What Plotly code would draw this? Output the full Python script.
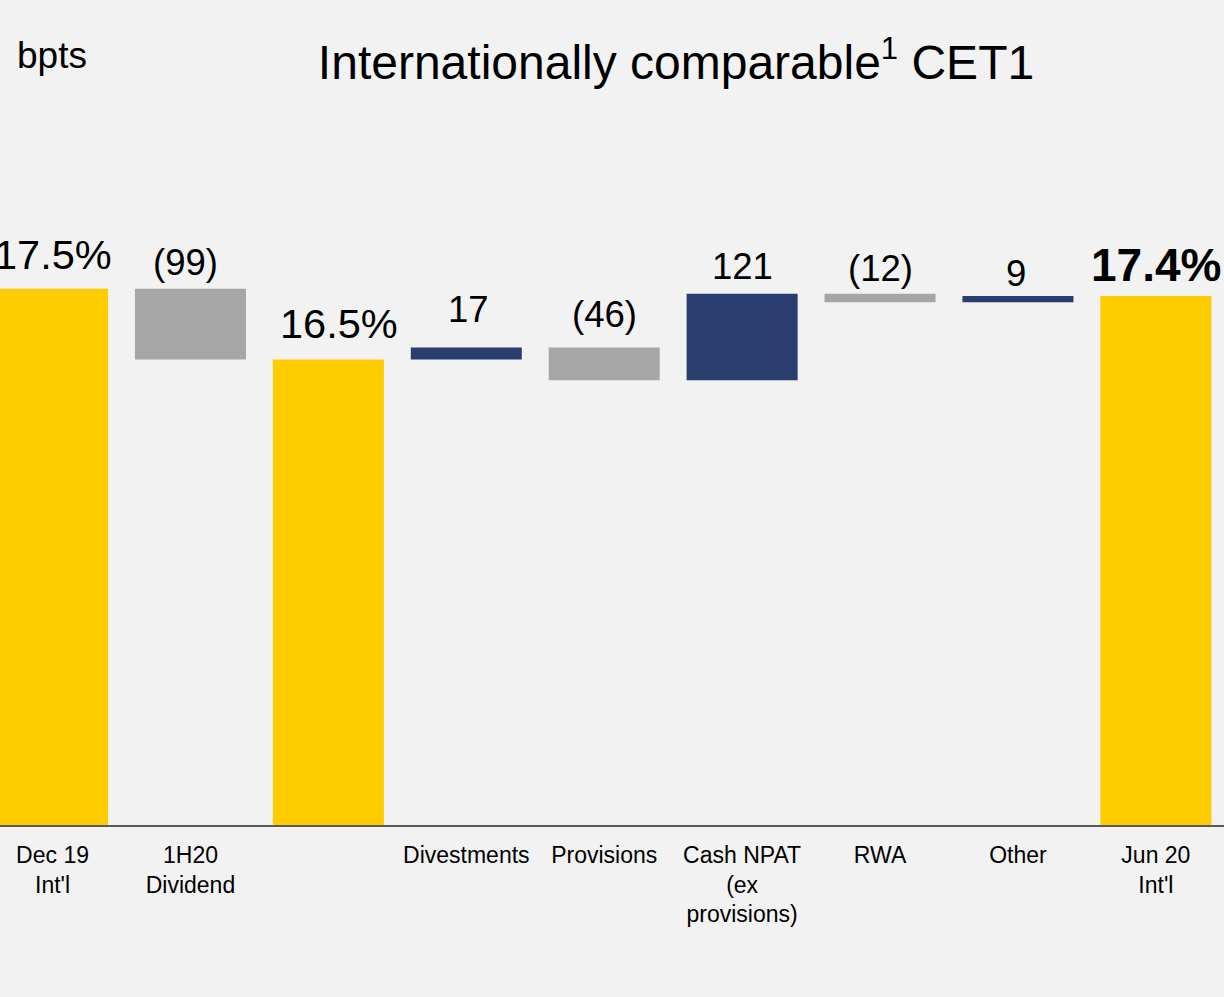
import plotly.graph_objects as go

# ---- data ----
categories = ["Dec 19<br>Int'l", "1H20<br>Dividend", "", "Divestments", "Provisions",
              "Cash NPAT<br>(ex<br>provisions)", "RWA", "Other", "Jun 20<br>Int'l"]
measures = ["absolute", "relative", "total", "relative", "relative",
            "relative", "relative", "relative", "total"]
values_bps = [1750, -99, 0, 17, -46, 121, -12, 9, 0]

# ---- styles ----
YELLOW = "#FFCC00"
GREY = "#A6A6A6"
NAVY = "#293E6E"
BG = "#F2F2F2"
FONT = "Arial, Liberation Sans, sans-serif"

label_sizes = [41.5, 36.5, 41.5, 36.5, 36.5, 36.5, 36.5, 36.5, 46]
label_bold = [False, False, False, False, False, False, False, False, True]
label_gap_px = [19, 12, 20, 24, 19, 13, 11, 9, 14]   # gap between digit baseline and bar top
label_xshift = [0, -5, 11, 2, 0, 0, 0, -2, 0]

x_pos = list(range(len(categories)))

fig = go.Figure()
fig.add_trace(go.Waterfall(
    x=x_pos,
    y=values_bps,
    measure=measures,
    width=0.805,
    base=0,
    increasing=dict(marker=dict(color=NAVY)),
    decreasing=dict(marker=dict(color=GREY)),
    totals=dict(marker=dict(color=YELLOW)),
    connector=dict(visible=False),
    textinfo="none",
    hoverinfo="skip",
))

# compute running totals and label texts from data
running = 0
for i, (m, v) in enumerate(zip(measures, values_bps)):
    if m == "absolute":
        running = v
        text = f"{v/100:.1f}%"
        top = v
    elif m == "total":
        text = f"{running/100:.1f}%"
        top = running
    else:
        start = running
        end = running + v
        running = end
        text = f"{v}" if v >= 0 else f"({-v})"
        top = max(start, end)
    if label_bold[i]:
        text = f"<b>{text}</b>"
    fig.add_annotation(
        x=i, y=top, xref="x", yref="y", text=text, showarrow=False,
        yanchor="bottom", xanchor="center",
        xshift=label_xshift[i],
        yshift=label_gap_px[i] - 0.212 * label_sizes[i] - 1,
        font=dict(family=FONT, size=label_sizes[i], color="black"),
    )

fig.add_annotation(
    x=15 / 1224, y=1.062, xref="paper", yref="paper", text="bpts",
    showarrow=False, xanchor="left", yanchor="middle",
    font=dict(family=FONT, size=37, color="black"),
)

fig.update_layout(
    width=1224, height=997,
    margin=dict(l=0, r=0, t=100, b=172),
    paper_bgcolor=BG, plot_bgcolor=BG,
    showlegend=False,
    title=dict(
        text="Internationally comparable<sup><span style='font-size:31px'>1</span></sup> CET1",
        x=676 / 1224, xanchor="center", xref="paper",
        y=1 - 62 / 997, yanchor="middle",
        font=dict(family=FONT, size=48, color="black"),
    ),
    xaxis=dict(
        range=[-0.381, 8.494],
        tickmode="array", tickvals=x_pos, ticktext=categories,
        tickfont=dict(family=FONT, size=23, color="black"),
        ticklabelstandoff=8,
        showline=True, linecolor="#595959", linewidth=2,
        showgrid=False, zeroline=False, ticks="",
    ),
    yaxis=dict(
        range=[1000, 2014], visible=False, showgrid=False, zeroline=False,
    ),
)

fig.write_html("out.html", config={"displayModeBar": False},
               post_script="document.body.style.margin='0';")
